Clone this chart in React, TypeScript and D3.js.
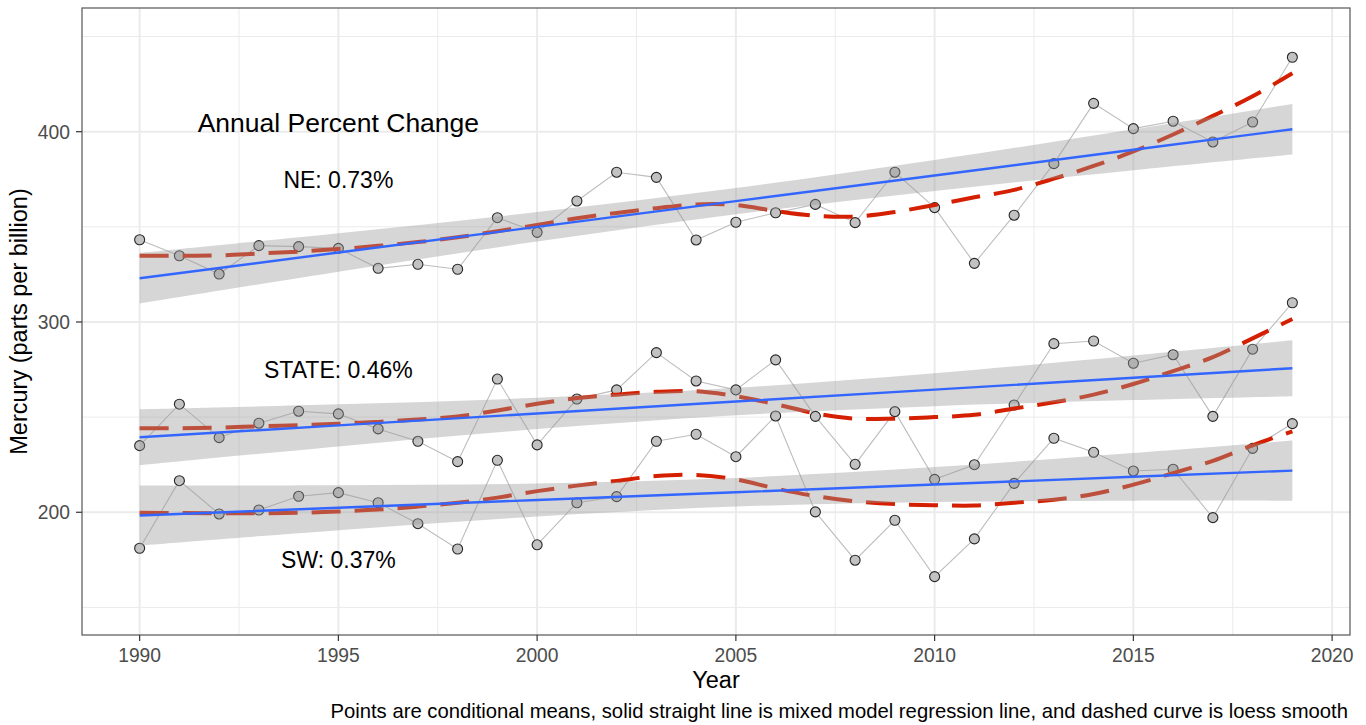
import React from 'react';
import * as d3 from 'd3';

const years = [1990, 1991, 1992, 1993, 1994, 1995, 1996, 1997, 1998, 1999, 2000, 2001, 2002, 2003, 2004, 2005, 2006, 2007, 2008, 2009, 2010, 2011, 2012, 2013, 2014, 2015, 2016, 2017, 2018, 2019];

const neMeans = [343.2, 334.8, 325.2, 340.1, 339.6, 338.7, 328.2, 330.3, 327.7, 354.8, 347.1, 363.6, 378.7, 376.0, 343.1, 352.4, 357.4, 361.8, 352.2, 378.7, 360.1, 330.8, 356.1, 383.2, 414.9, 401.6, 405.5, 394.6, 405.1, 439.1];
const stateMeans = [235.0, 256.8, 239.2, 246.8, 253.1, 251.7, 243.8, 237.3, 226.6, 270.0, 235.4, 259.5, 264.3, 283.9, 269.0, 264.3, 280.1, 250.4, 225.2, 252.9, 217.3, 225.0, 256.4, 288.6, 290.0, 278.3, 282.8, 250.4, 285.7, 310.1];
const swMeans = [181.1, 216.6, 199.1, 201.2, 208.4, 210.3, 205.0, 194.0, 180.7, 227.3, 182.9, 205.0, 208.2, 237.3, 241.0, 229.2, 250.6, 200.2, 174.8, 195.8, 166.2, 186.0, 215.2, 238.9, 231.5, 221.7, 222.6, 197.2, 233.6, 246.6];

const neLoess = [334.8, 334.8, 335.0, 336.0, 337.0, 338.3, 340.0, 342.0, 344.5, 347.7, 351.0, 354.5, 357.3, 359.8, 361.8, 361.5, 358.3, 355.8, 355.4, 357.8, 361.5, 365.5, 369.4, 375.3, 382.0, 389.6, 398.5, 408.3, 418.6, 430.7];
const stateLoess = [244.1, 244.2, 244.5, 245.2, 245.8, 246.5, 247.5, 248.7, 250.3, 253.5, 257.0, 260.0, 261.8, 263.3, 263.6, 261.0, 256.8, 252.0, 249.2, 249.2, 250.0, 251.2, 254.5, 257.8, 261.8, 267.4, 274.2, 281.5, 291.4, 301.6];
const swLoess = [199.8, 199.6, 199.5, 199.5, 199.7, 200.4, 201.4, 203.0, 205.0, 207.7, 211.1, 214.0, 216.5, 219.0, 219.6, 217.3, 212.5, 208.5, 205.8, 204.3, 203.7, 203.5, 205.0, 206.6, 209.6, 214.5, 220.6, 227.0, 235.2, 242.5];

const bandYears = [1990, 1995, 2000, 2005, 2010, 2015, 2019];
const neFit = [323.0, 336.5, 350.0, 363.5, 377.0, 390.5, 401.3];
const neLower = [309.7, 326.35, 342.25, 356.59, 368.86, 379.76, 388.0];
const neUpper = [336.3, 346.65, 357.75, 370.41, 385.14, 401.24, 414.6];
const stateFit = [239.4, 245.66, 251.92, 258.18, 264.43, 270.69, 275.7];
const stateLower = [224.7, 234.6, 243.7, 250.97, 255.74, 258.95, 261.0];
const stateUpper = [254.1, 256.72, 260.14, 265.39, 273.12, 282.43, 290.4];
const swFit = [198.3, 202.37, 206.44, 210.51, 214.58, 218.65, 221.9];
const swLower = [182.5, 190.57, 197.79, 202.99, 205.41, 206.09, 206.1];
const swUpper = [214.1, 214.17, 215.09, 218.03, 223.75, 231.21, 237.7];

const xTicks = [1990, 1995, 2000, 2005, 2010, 2015, 2020];
const xMinor = [1992.5, 1997.5, 2002.5, 2007.5, 2012.5, 2017.5];
const yTicks = [200, 300, 400];
const yMinor = [150, 250, 350, 450];

const annotations = [
  { text: 'Annual Percent Change', x: 1995, y: 405, big: true },
  { text: 'NE: 0.73%', x: 1995, y: 375, big: false },
  { text: 'STATE: 0.46%', x: 1995, y: 275, big: false },
  { text: 'SW: 0.37%', x: 1995, y: 175, big: false },
];

const caption = 'Points are conditional means, solid straight line is mixed model regression line, and dashed curve is loess smooth';

const FONT = '"Liberation Sans", Arial, Helvetica, sans-serif';

export default function App() {
  const W = 1366, H = 725;
  const left = 82, right = 1350, top = 8, bottom = 635;
  const x = d3.scaleLinear().domain([1988.55, 2020.45]).range([left, right]);
  const y = d3.scaleLinear().domain([135.5, 465]).range([bottom, top]);

  const series = [
    { means: neMeans, loess: neLoess, fit: neFit, lo: neLower, hi: neUpper },
    { means: stateMeans, loess: stateLoess, fit: stateFit, lo: stateLower, hi: stateUpper },
    { means: swMeans, loess: swLoess, fit: swFit, lo: swLower, hi: swUpper },
  ];

  const pathLine = d3.line<number>().x((_, i) => x(years[i])).y((d) => y(d));
  const loessLine = d3.line<number>().x((_, i) => x(years[i])).y((d) => y(d)).curve(d3.curveCatmullRom.alpha(0.5));
  const fitLine = d3.line<number>().x((_, i) => x(bandYears[i])).y((d) => y(d));

  const ribbon = (lo: number[], hi: number[]) =>
    d3.area<number>()
      .x((_, i) => x(bandYears[i]))
      .y0((_, i) => y(lo[i]))
      .y1((_, i) => y(hi[i]))
      .curve(d3.curveCatmullRom.alpha(0.5))(lo) || '';

  return (
    <svg width={W} height={H} style={{ position: 'absolute', left: 0, top: 0, background: '#fff' }} fontFamily={FONT}>
      <rect x={0} y={0} width={W} height={H} fill="#fff" />
      <defs>
        <clipPath id="panel">
          <rect x={left} y={top} width={right - left} height={bottom - top} />
        </clipPath>
      </defs>
      <g>
        {yMinor.map((v) => (
          <line key={'ym' + v} x1={left} x2={right} y1={y(v)} y2={y(v)} stroke="#ebebeb" strokeWidth={1} />
        ))}
        {xMinor.map((v) => (
          <line key={'xm' + v} x1={x(v)} x2={x(v)} y1={top} y2={bottom} stroke="#ebebeb" strokeWidth={1} />
        ))}
        {yTicks.map((v) => (
          <line key={'yM' + v} x1={left} x2={right} y1={y(v)} y2={y(v)} stroke="#ebebeb" strokeWidth={2} />
        ))}
        {xTicks.map((v) => (
          <line key={'xM' + v} x1={x(v)} x2={x(v)} y1={top} y2={bottom} stroke="#ebebeb" strokeWidth={2} />
        ))}
      </g>
      <g clipPath="url(#panel)">
        {series.map((s, k) => (
          <path key={'c' + k} d={pathLine(s.means) || ''} fill="none" stroke="#bdbdbd" strokeWidth={1.1} />
        ))}
        {series.map((s, k) => (
          <g key={'p' + k}>
            {s.means.map((v, i) => (
              <circle key={i} cx={x(years[i])} cy={y(v)} r={5} fill="#c2c2c2" stroke="#262626" strokeWidth={1.1} />
            ))}
          </g>
        ))}
        {series.map((s, k) => (
          <path key={'l' + k} d={loessLine(s.loess) || ''} fill="none" stroke="#d42000" strokeWidth={4} strokeDasharray="29 14" />
        ))}
        {series.map((s, k) => (
          <path key={'r' + k} d={ribbon(s.lo, s.hi)} fill="#999999" fillOpacity={0.4} stroke="none" />
        ))}
        {series.map((s, k) => (
          <path key={'f' + k} d={fitLine(s.fit) || ''} fill="none" stroke="#3366ff" strokeWidth={2.4} />
        ))}
      </g>
      {annotations.map((a) => (
        <text key={a.text} x={x(a.x)} y={y(a.y)} dy="0.36em" textAnchor="middle" fontSize={a.big ? 26.5 : 23} fill="#000">
          {a.text}
        </text>
      ))}
      <rect x={left} y={top} width={right - left} height={bottom - top} fill="none" stroke="#555555" strokeWidth={1.2} />
      {xTicks.map((v) => (
        <g key={'xt' + v}>
          <line x1={x(v)} x2={x(v)} y1={bottom} y2={bottom + 6} stroke="#333333" strokeWidth={1.2} />
          <text x={x(v)} y={662} textAnchor="middle" fontSize={19.3} fill="#4d4d4d">{v}</text>
        </g>
      ))}
      {yTicks.map((v) => (
        <g key={'yt' + v}>
          <line x1={left - 6} x2={left} y1={y(v)} y2={y(v)} stroke="#333333" strokeWidth={1.2} />
          <text x={70} y={y(v)} dy="0.36em" textAnchor="end" fontSize={19.3} fill="#4d4d4d">{v}</text>
        </g>
      ))}
      <text x={(left + right) / 2} y={688.3} textAnchor="middle" fontSize={23.5} fill="#000">Year</text>
      <text transform={`translate(27,${(top + bottom) / 2}) rotate(-90)`} textAnchor="middle" fontSize={23.5} fill="#000">
        Mercury (parts per billion)
      </text>
      <text x={1348} y={718} textAnchor="end" fontSize={20.25} fill="#000">{caption}</text>
    </svg>
  );
}
